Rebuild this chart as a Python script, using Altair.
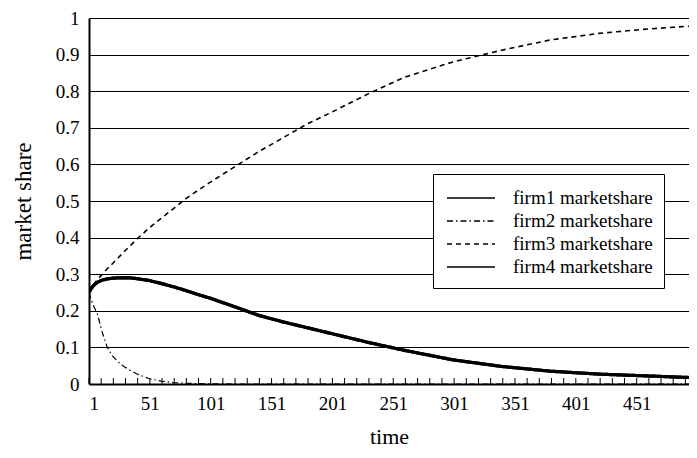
import altair as alt
import pandas as pd

# time points
time = [1, 3, 5, 8, 12, 16, 20, 25, 30, 35, 40, 50, 60, 70, 80, 90, 100,
        120, 140, 160, 180, 200, 230, 260, 300, 340, 380, 420, 460, 500]

firm1 = [0.250, 0.262, 0.270, 0.278, 0.284, 0.287, 0.289, 0.290, 0.290, 0.290,
         0.288, 0.283, 0.275, 0.266, 0.256, 0.245, 0.235, 0.212, 0.188, 0.170,
         0.154, 0.138, 0.114, 0.092, 0.066, 0.048, 0.035, 0.027, 0.022, 0.017]

firm2 = [0.250, 0.228, 0.212, 0.190, 0.140, 0.100, 0.078, 0.060, 0.047, 0.037,
         0.028, 0.015, 0.008, 0.004, 0.002, 0.001, 0.0005, 0.0, 0.0, 0.0,
         0.0, 0.0, 0.0, 0.0, 0.0, 0.0, 0.0, 0.0, 0.0, 0.0]

firm3 = [0.250, 0.262, 0.272, 0.286, 0.300, 0.315, 0.328, 0.345, 0.362, 0.378,
         0.395, 0.425, 0.452, 0.478, 0.505, 0.528, 0.550, 0.592, 0.634, 0.672,
         0.710, 0.742, 0.792, 0.838, 0.880, 0.912, 0.940, 0.958, 0.970, 0.979]

firm4 = list(firm1)

series_names = ["firm1 marketshare", "firm2 marketshare",
                "firm3 marketshare", "firm4 marketshare"]
line_widths = [3.2, 1.2, 1.6, 3.2]

x_labels = [1, 51, 101, 151, 201, 251, 301, 351, 401, 451]
minor_ticks = list(range(1, 495, 10))
y_ticks = [0, 0.1, 0.2, 0.3, 0.4, 0.5, 0.6, 0.7, 0.8, 0.9, 1.0]

rows = []
for name, w, vals in zip(series_names, line_widths, [firm1, firm2, firm3, firm4]):
    for t, v in zip(time, vals):
        rows.append({"time": t, "share": v, "series": name, "w": w})
df = pd.DataFrame(rows)
ticks_df = pd.DataFrame({"t": minor_ticks})

FONT = "Liberation Serif"
W, H = 600, 366

xscale = alt.Scale(domain=[1, 494], nice=False, zero=False)
yscale = alt.Scale(domain=[0, 1], nice=False)

lines = alt.Chart(df).mark_line(clip=True, color="black").encode(
    x=alt.X("time:Q", scale=xscale,
            axis=alt.Axis(values=x_labels, title="time", grid=False,
                          ticks=False, domainColor="black", domainWidth=2,
                          labelFont=FONT, labelFontSize=19, labelColor="black",
                          labelPadding=10, titleFont=FONT, titleFontSize=22,
                          titleFontWeight="normal", titleColor="black",
                          titlePadding=13)),
    y=alt.Y("share:Q", scale=yscale,
            axis=alt.Axis(values=y_ticks, format=".1~f", title="market share",
                          grid=True, gridColor="black", gridWidth=1,
                          gridOpacity=1, ticks=False, domainColor="black",
                          domainWidth=2, labelFont=FONT, labelFontSize=19,
                          labelColor="black", labelPadding=10,
                          titleFont=FONT, titleFontSize=23,
                          titleFontWeight="normal", titleColor="black",
                          titlePadding=20)),
    strokeDash=alt.StrokeDash(
        "series:N",
        scale=alt.Scale(domain=series_names,
                        range=[[1, 0], [6, 3, 1.5, 3], [5, 4], [1, 0]]),
        legend=alt.Legend(title=None)),
    strokeWidth=alt.StrokeWidth("w:Q", scale=None),
)

ticks = alt.Chart(ticks_df).mark_rule(color="black", strokeWidth=1).encode(
    x=alt.X("t:Q", scale=xscale),
    y=alt.value(H),
    y2=alt.value(H - 6),
)

chart = alt.layer(ticks, lines).properties(
    width=W, height=H,
    autosize=alt.AutoSizeParams(type="none"),
    padding={"left": 81, "top": 10, "right": 0, "bottom": 66},
).configure_view(
    strokeWidth=0
).configure_legend(
    orient="none", legendX=344, legendY=156,
    fillColor="white", strokeColor="black", padding=11,
    symbolType="M-2,0H2", symbolSize=576, symbolStrokeColor="black",
    symbolStrokeWidth=1.6, symbolOffset=14,
    labelFont=FONT, labelFontSize=19, labelColor="black",
    labelOffset=29, rowPadding=0, labelLimit=300,
)

chart.save("out.html", embed_options={"renderer": "svg", "actions": False})
